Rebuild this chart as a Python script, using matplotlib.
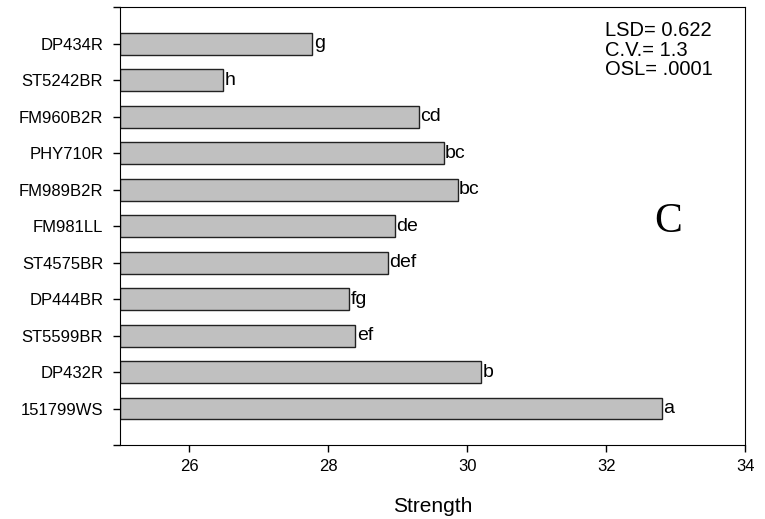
import matplotlib
matplotlib.use("Agg")
import matplotlib.pyplot as plt

plt.rcParams["font.family"] = ["Liberation Sans", "DejaVu Sans"]

# cultivars listed top to bottom
cultivars = ["DP434R", "ST5242BR", "FM960B2R", "PHY710R", "FM989B2R", "FM981LL",
             "ST4575BR", "DP444BR", "ST5599BR", "DP432R", "151799WS"]
strength = [27.77, 26.49, 29.30, 29.66, 29.86, 28.96, 28.86, 28.30, 28.39, 30.20, 32.80]
groups = ["g", "h", "cd", "bc", "bc", "de", "def", "fg", "ef", "b", "a"]

stats = ["LSD= 0.622", "C.V.= 1.3", "OSL= .0001"]
xmin, xmax = 25, 34

fig = plt.figure(figsize=(7.65, 5.19), dpi=100)
ax = fig.add_axes([0.1566, 0.1426, 0.8177, 0.843])

n = len(cultivars)
ypos = [n - i for i in range(n)]
widths = [s - xmin for s in strength]
ax.barh(ypos, widths, left=xmin, height=0.6, color="#c0c0c0",
        edgecolor="#222222", linewidth=1.0)

for y, s, g in zip(ypos, strength, groups):
    ax.text(s + 0.02, y, g, ha="left", va="center", fontsize=14)

ax.set_xlim(xmin, xmax)
ax.set_ylim(0, n + 1)
ax.set_xticks([26, 28, 30, 32, 34])
ax.set_yticks(range(0, n + 2))
ax.set_yticklabels([""] + cultivars[::-1] + [""])
ax.tick_params(axis="both", direction="out", length=5, width=1, labelsize=12)
ax.tick_params(axis="x", pad=5)
ax.tick_params(axis="y", pad=7)
ax.set_xlabel("Strength", fontsize=15)
ax.xaxis.set_label_coords(0.5, -0.118)

ax.text(0.775, 0.968, "\n".join(stats), transform=ax.transAxes, ha="left",
        va="top", fontsize=14.5, linespacing=1.02)
ax.text(0.876, 0.51, "C", transform=ax.transAxes, ha="center", va="center",
        fontsize=30, family="Liberation Serif")

fig.savefig("out.png", dpi=100)
